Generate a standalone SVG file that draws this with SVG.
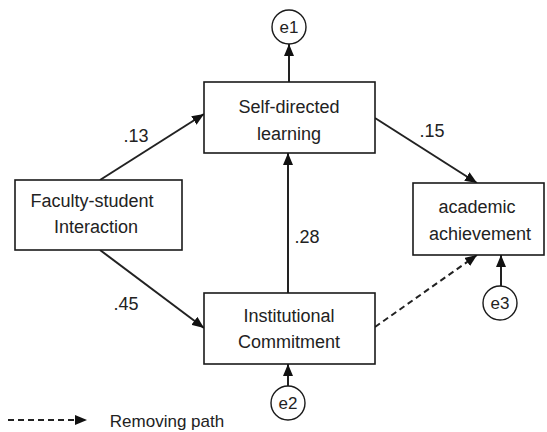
<svg xmlns="http://www.w3.org/2000/svg" width="547" height="432" viewBox="0 0 547 432">
<style>
.box{fill:#fff;stroke:#1a1a1a;stroke-width:1.6}
.circ{fill:#fff;stroke:#1a1a1a;stroke-width:1.4}
.t{font-family:"Liberation Sans",Arial,sans-serif;font-size:18px;fill:#222;text-anchor:middle}
.n{font-family:"Liberation Sans",Arial,sans-serif;font-size:18px;fill:#222;text-anchor:middle}
.e{font-family:"Liberation Sans",Arial,sans-serif;font-size:17px;fill:#222;text-anchor:middle}
.c{stroke:#222;stroke-width:2;fill:none;marker-end:url(#ah)}
.d{stroke-dasharray:6,4}
</style>
<defs>
<marker id="ah" markerUnits="userSpaceOnUse" markerWidth="12" markerHeight="10" refX="12" refY="5" orient="auto">
<path d="M0,0 L12,5 L0,10 z" fill="#111"/>
</marker>
</defs>
<rect width="547" height="432" fill="#fff"/>
<g id="connectors">
<line class="c" x1="100" y1="180" x2="204" y2="114"/>
<line class="c" x1="375" y1="118" x2="477" y2="183"/>
<line class="c" x1="100" y1="250" x2="204" y2="328"/>
<line class="c" x1="288" y1="293" x2="288" y2="153"/>
<line class="c d" x1="375" y1="327" x2="477" y2="255"/>
<line class="c" x1="501" y1="286" x2="501" y2="255"/>
<line class="c" x1="288" y1="386" x2="288" y2="364"/>
<line class="c" x1="289" y1="82" x2="289" y2="44"/>
<line class="c d" x1="8" y1="420" x2="87" y2="420"/>
</g>
<g id="labels">
<text class="n" x="136" y="142">.13</text>
<text class="n" x="432" y="137">.15</text>
<text class="n" x="126" y="310">.45</text>
<text class="n" x="307" y="243">.28</text>
<text class="e" x="167" y="427">Removing path</text>
</g>
<g id="self-directed">
<rect class="box" x="204" y="82" width="171" height="71"/>
<text class="t" x="289" y="113">Self-directed</text>
<text class="t" x="289" y="140">learning</text>
</g>
<g id="faculty">
<rect class="box" x="15" y="180" width="167" height="70"/>
<text class="t" x="92" y="207">Faculty-student</text>
<text class="t" x="96" y="233">Interaction</text>
</g>
<g id="institutional">
<rect class="box" x="204" y="293" width="171" height="71"/>
<text class="t" x="289" y="322">Institutional</text>
<text class="t" x="289" y="348">Commitment</text>
</g>
<g id="academic">
<rect class="box" x="413" y="183" width="131" height="72"/>
<text class="t" x="477" y="213">academic</text>
<text class="t" x="480" y="240">achievement</text>
</g>
<g id="e1">
<circle class="circ" cx="289" cy="27" r="17"/>
<text class="e" x="289" y="33">e1</text>
</g>
<g id="e2">
<circle class="circ" cx="288" cy="403" r="17"/>
<text class="e" x="288" y="409">e2</text>
</g>
<g id="e3">
<circle class="circ" cx="500" cy="303" r="17"/>
<text class="e" x="500" y="309">e3</text>
</g>
</svg>
